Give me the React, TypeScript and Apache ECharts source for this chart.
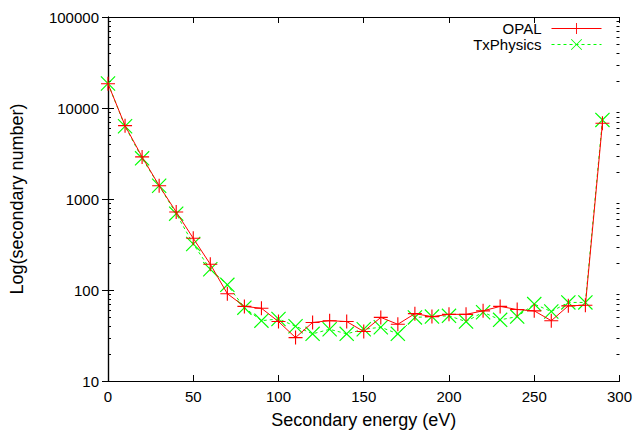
import React, { useEffect, useRef } from "react";
import * as echarts from "echarts";

const energy = [0, 10, 20, 30, 40, 50, 60, 70, 80, 90, 100, 110, 120, 130, 140, 150, 160, 170, 180, 190, 200, 210, 220, 230, 240, 250, 260, 270, 280, 290];
const opal = [18500, 6400, 2900, 1400, 720, 370, 192, 91, 66, 63, 45, 30, 44, 46, 45, 35, 50, 42, 55, 51, 54, 54, 59, 66, 61, 59, 46, 67, 68, 6800];
const txPhysics = [18600, 6300, 2800, 1400, 690, 320, 169, 114, 64, 46, 48, 40, 33, 37, 33, 37, 39, 33, 50, 51, 52, 45, 57, 47, 51, 70, 58, 73, 73, 7400];
const yDecades = [10, 100, 1000, 10000];
const minorMultipliers = [2, 3, 4, 5, 6, 7, 8, 9];

const FONT = "Liberation Sans";
const PLUS = "path://M0,9.2H20V10.8H0Z M9.2,0H10.8V20H9.2Z";
const CROSS = "path://M1.1,0 L10,8.9 L18.9,0 L20,1.1 L11.1,10 L20,18.9 L18.9,20 L10,11.1 L1.1,20 L0,18.9 L8.9,10 L0,1.1 Z";

export default function App() {
  const ref = useRef<HTMLDivElement>(null);
  useEffect(() => {
    if (!ref.current) return;
    document.body.style.margin = "0";
    const chart = echarts.init(ref.current, null, { renderer: "svg" });
    const minorTicks: number[][] = [];
    yDecades.forEach((d) => minorMultipliers.forEach((m) => minorTicks.push([0, d * m])));
    const axisLine = { show: true, lineStyle: { color: "#000", width: 1.2 } };
    const tick = { show: true, inside: true, length: 6, lineStyle: { color: "#000", width: 1 } };
    const legendBase = {
      orient: "vertical",
      right: 33,
      align: "right",
      padding: 0,
      itemWidth: 50,
      itemHeight: 14,
      lineStyle: { width: 1 },
      textStyle: { fontFamily: FONT, fontSize: 15, lineHeight: 14, color: "#000", padding: [0, 5, 0, 0] },
    };
    chart.setOption({
      animation: false,
      backgroundColor: "#fff",
      textStyle: { fontFamily: FONT },
      grid: { left: 108, right: 15, top: 17, bottom: 47, containLabel: false },
      legend: [
        { ...legendBase, data: ["OPAL"], top: 21 },
        { ...legendBase, data: ["TxPhysics"], top: 37 },
      ],
      xAxis: [
        {
          type: "value",
          min: 0,
          max: 300,
          interval: 50,
          position: "bottom",
          axisLine,
          axisTick: tick,
          splitLine: { show: false },
          axisLabel: { fontFamily: FONT, fontSize: 15, color: "#000", margin: 8 },
          name: "Secondary energy (eV)",
          nameLocation: "middle",
          nameGap: 30,
          nameTextStyle: { fontFamily: FONT, fontSize: 18, color: "#000" },
        },
        {
          type: "value",
          min: 0,
          max: 300,
          interval: 50,
          position: "top",
          axisLine,
          axisTick: tick,
          splitLine: { show: false },
          axisLabel: { show: false },
        },
      ],
      yAxis: [
        {
          type: "log",
          logBase: 10,
          min: 10,
          max: 100000,
          position: "left",
          axisLine,
          axisTick: tick,
          splitLine: { show: false },
          axisLabel: {
            fontFamily: FONT,
            fontSize: 15,
            color: "#000",
            margin: 9,
            formatter: (v: number) => String(Math.round(v)),
          },
          name: "Log(secondary number)",
          nameLocation: "middle",
          nameGap: 82,
          nameRotate: 90,
          nameTextStyle: { fontFamily: FONT, fontSize: 18, color: "#000" },
        },
        {
          type: "log",
          logBase: 10,
          min: 10,
          max: 100000,
          position: "right",
          axisLine,
          axisTick: tick,
          splitLine: { show: false },
          axisLabel: { show: false },
        },
      ],
      series: [
        {
          name: "OPAL",
          type: "line",
          xAxisIndex: 0,
          yAxisIndex: 0,
          data: energy.map((e, i) => [e, opal[i]]),
          symbol: PLUS,
          symbolSize: 14,
          showAllSymbol: true,
          lineStyle: { color: "#ff0000", width: 1 },
          itemStyle: { color: "#ff0000" },
          z: 3,
        },
        {
          name: "TxPhysics",
          type: "line",
          xAxisIndex: 0,
          yAxisIndex: 0,
          data: energy.map((e, i) => [e, txPhysics[i]]),
          symbol: CROSS,
          symbolSize: 15,
          showAllSymbol: true,
          lineStyle: { color: "#00ff00", width: 1, type: [3, 3] },
          itemStyle: { color: "#00ff00" },
          z: 2,
        },
        {
          type: "custom",
          xAxisIndex: 0,
          yAxisIndex: 0,
          silent: true,
          data: minorTicks,
          renderItem: (params: any, api: any) => {
            const p = api.coord([0, api.value(1)]);
            const r = api.coord([300, api.value(1)]);
            const y = Math.round(p[1]) + 0.5;
            return {
              type: "group",
              children: [
                { type: "line", shape: { x1: p[0], y1: y, x2: p[0] + 3, y2: y }, style: { stroke: "#000", lineWidth: 1 } },
                { type: "line", shape: { x1: r[0] - 3, y1: y, x2: r[0], y2: y }, style: { stroke: "#000", lineWidth: 1 } },
              ],
            };
          },
          z: 1,
        },
      ],
    });
    return () => chart.dispose();
  }, []);
  return <div ref={ref} style={{ position: "fixed", left: 0, top: 0, width: 635, height: 434 }} />;
}
